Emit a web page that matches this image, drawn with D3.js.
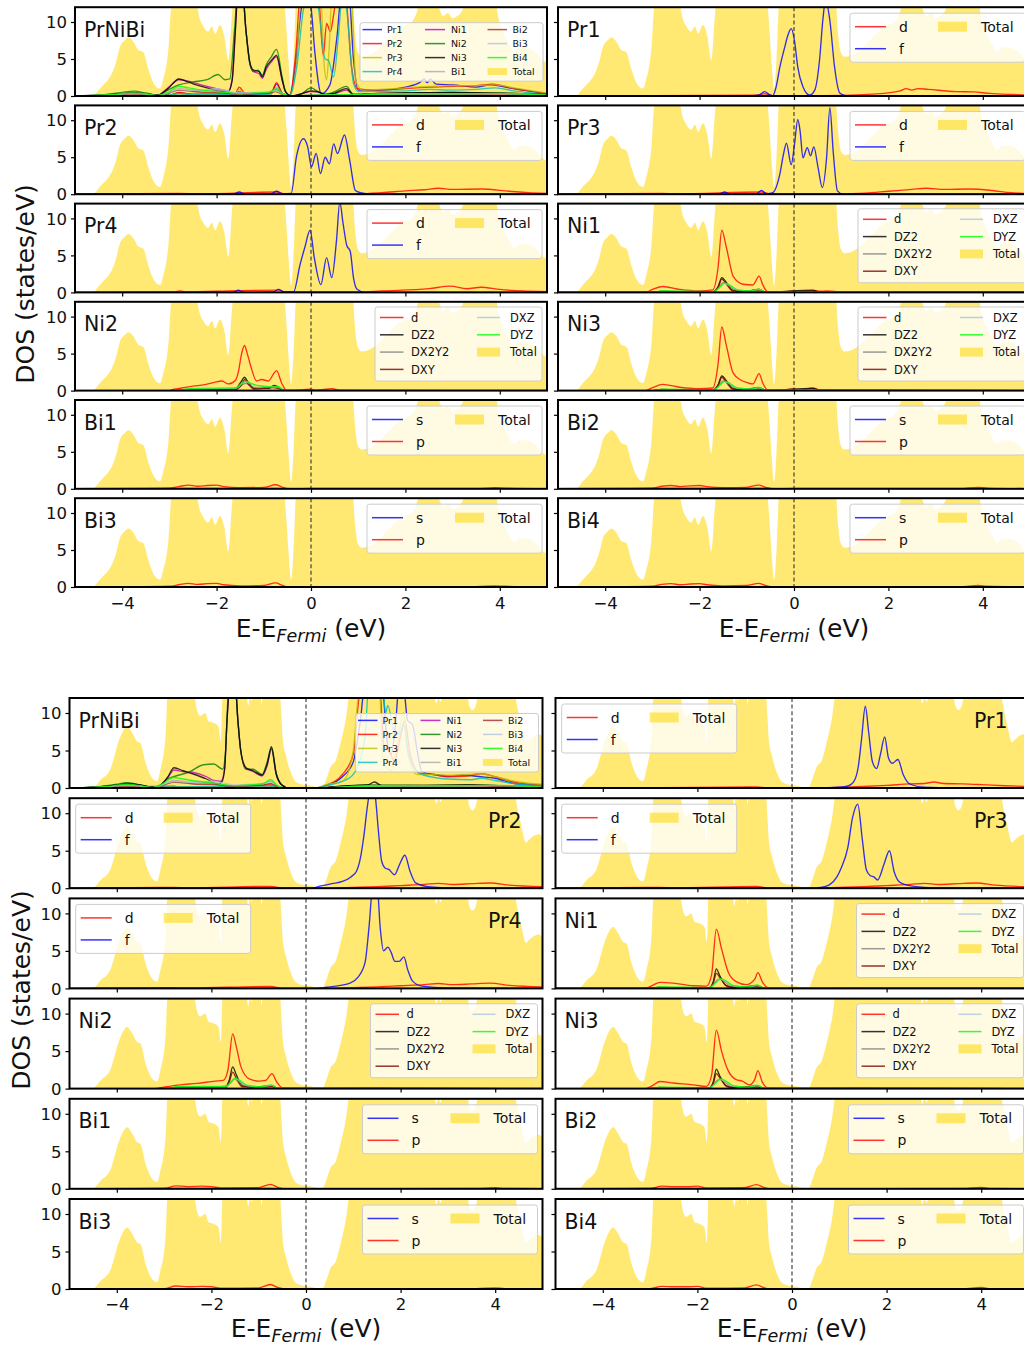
<!DOCTYPE html>
<html><head><meta charset="utf-8">
<script src="https://cdn.jsdelivr.net/npm/d3@7"></script>
<style>body{margin:0;background:#fff} svg{display:block} text{font-family:"DejaVu Sans",sans-serif;fill:#111}</style>
</head><body><svg id="c" width="1024" height="1345"></svg>
<script>
// ---------------- tick labels ----------------
const xTicks = [-4, -2, 0, 2, 4];
const xTickLabels = ["\u22124", "\u22122", "0", "2", "4"];
const yTicks = [0, 5, 10];
const yTickLabels = ["0", "5", "10"];

// ---------------- FIGURE A (top) : [energy eV, DOS] ----------------
const A_total = [[-5,0],[-4.62,0],[-4.5,0.8],[-4.43,1.3],[-4.3,2.2],[-4.22,3.0],[-4.12,4.8],[-4.05,6.6],[-3.95,7.5],[-3.87,7.9],[-3.76,7.3],[-3.66,6.2],[-3.55,5.9],[-3.45,3.7],[-3.34,1.8],[-3.2,1.0],[-3.13,2.3],[-3.02,6.4],[-2.95,12.5],[-2.5,13],[-2.42,12.3],[-2.36,10.5],[-2.28,9.4],[-2.18,8.7],[-2.1,9.4],[-2.03,8.4],[-1.93,9.6],[-1.84,8.2],[-1.75,4.8],[-1.68,10.5],[-1.64,13],[-0.58,13],[-0.52,9],[-0.48,5],[-0.42,0.9],[-0.37,5],[-0.31,13],[0.88,13],[0.93,8.7],[0.99,5.9],[1.07,5.3],[1.18,5.4],[1.29,5.7],[1.43,6.4],[1.57,7.3],[1.71,8.2],[1.85,9.1],[2.0,9.6],[2.13,10],[2.25,11.5],[2.31,13],[2.65,13],[2.72,11.8],[2.8,10.8],[2.9,11.2],[3.0,10.5],[3.1,10.8],[3.2,11.5],[3.3,13],[3.9,13],[3.97,10.5],[4.05,9.0],[4.18,7.2],[4.3,6.0],[4.42,6.6],[4.6,6.5],[4.75,6.0],[4.9,4.9],[5.0,4.5]];

const A_allPr1 = [[-5,0],[-3,0.1],[-2.8,0.4],[-2.5,0.2],[-1.6,0.3],[-1.52,0.6],[-1.4,0.2],[-0.85,0.3],[-0.73,1.6],[-0.6,0.3],[-0.45,0.1],[-0.35,3],[-0.2,12],[-0.1,14],[0.0,12],[0.08,6],[0.22,0.3],[0.4,1.5],[0.55,8],[0.65,14],[0.8,14],[0.9,5],[1.0,0.8],[1.5,0.8],[2.0,1.2],[2.3,1.8],[2.4,2.3],[2.46,1.8],[2.53,2.3],[2.65,1.6],[3.0,1.5],[3.5,1.2],[3.8,1.5],[4.2,1.1],[4.6,0.7],[5,0.3]];
const A_allPr2 = [[-5,0],[-3,0.1],[-2.8,0.5],[-2.5,0.2],[-1.6,0.4],[-1.52,1.2],[-1.4,0.4],[-0.85,0.4],[-0.73,1.8],[-0.6,0.3],[-0.45,0.1],[-0.32,6],[-0.22,14],[0.15,14],[0.26,5.5],[0.33,9.8],[0.41,8.7],[0.48,11],[0.56,14],[0.72,14],[0.86,3.9],[0.98,1.0],[1.3,0.8],[2,1.0],[2.5,1.2],[3,1.3],[3.5,1.4],[3.85,1.6],[4.3,1.0],[4.7,0.6],[5,0.3]];
const A_allPr3 = [[-5,0],[-3,0.1],[-2.8,0.3],[-2.5,0.2],[-1.6,0.3],[-1.52,0.9],[-1.4,0.3],[-0.85,0.3],[-0.73,1.2],[-0.6,0.3],[-0.45,0.1],[-0.3,5],[-0.2,14],[0.2,14],[0.28,4],[0.33,2.2],[0.38,6],[0.45,14],[0.85,14],[0.95,2],[1.1,0.8],[2,1.1],[2.5,1.3],[3,1.4],[3.5,1.4],[3.9,1.5],[4.3,1.1],[4.7,0.7],[5,0.4]];
const A_allPr4 = [[-5,0],[-3,0.1],[-2.8,0.3],[-2.5,0.2],[-1.6,0.2],[-1.52,0.6],[-1.4,0.2],[-0.85,0.3],[-0.73,1.0],[-0.6,0.3],[-0.45,0.1],[-0.3,4],[-0.15,12],[0,14],[0.15,12],[0.3,5],[0.37,4.8],[0.48,2.6],[0.58,8],[0.67,14],[0.75,12],[0.9,1.7],[1.0,0.6],[2,0.7],[2.5,0.9],[3,0.8],[3.5,0.9],[3.9,1.1],[4.3,0.7],[4.7,0.4],[5,0.2]];
const A_allNi1 = [[-5,0],[-4.5,0.1],[-4,0.3],[-3.8,0.45],[-3.5,0.3],[-3.25,0.1],[-3.03,1.1],[-2.8,2.2],[-2.6,2.0],[-2.43,1.7],[-2.2,1.3],[-2.0,1.0],[-1.75,0.7],[-1.67,2.3],[-1.6,9.5],[-1.55,14],[-1.45,14],[-1.38,9],[-1.29,4.2],[-1.22,3.3],[-1.1,3.0],[-1.03,2.4],[-0.95,3.6],[-0.84,4.6],[-0.73,5.3],[-0.61,2.1],[-0.54,0.6],[-0.42,0],[-0.2,0.3],[0,0.6],[0.15,0.5],[0.3,0.2],[0.5,0.3],[0.75,0.8],[0.9,0.2],[1.2,0.3],[2,0.4],[3,0.45],[4,0.35],[5,0.2]];
const A_allNi2 = [[-5,0],[-4.5,0.1],[-4,0.5],[-3.75,0.65],[-3.5,0.4],[-3.25,0.1],[-3.03,0.8],[-2.8,1.5],[-2.5,1.9],[-2.2,2.2],[-1.97,2.9],[-1.82,2.2],[-1.72,2.3],[-1.62,9],[-1.55,14],[-1.45,14],[-1.38,9],[-1.29,4.2],[-1.22,3.3],[-1.12,3.5],[-1.03,2.8],[-0.95,4.2],[-0.84,5.3],[-0.73,6.3],[-0.61,2.5],[-0.54,0.6],[-0.42,0],[-0.2,0.3],[0,1.1],[0.15,0.6],[0.3,0.2],[0.5,0.6],[0.75,1.3],[0.9,0.2],[1.2,0.3],[2,0.4],[3,0.5],[4,0.4],[5,0.2]];
const A_allNi3 = [[-5,0],[-4.5,0.1],[-4,0.3],[-3.8,0.4],[-3.5,0.3],[-3.25,0.1],[-3.03,1.0],[-2.8,2.3],[-2.6,1.9],[-2.43,1.5],[-2.2,1.1],[-2.05,0.8],[-1.75,0.6],[-1.67,2.1],[-1.6,9],[-1.55,14],[-1.45,14],[-1.38,9],[-1.29,4.4],[-1.22,3.5],[-1.1,3.3],[-1.03,2.6],[-0.95,3.9],[-0.84,4.8],[-0.73,5.5],[-0.61,2.2],[-0.54,0.6],[-0.42,0],[-0.2,0.3],[0,0.7],[0.15,0.6],[0.3,0.2],[0.5,0.4],[0.75,1.0],[0.9,0.2],[1.2,0.3],[2,0.4],[3,0.5],[4,0.4],[5,0.2]];
const A_allBi1 = [[-5,0],[-4.2,0.15],[-3.8,0.3],[-3.5,0.2],[-3.25,0.05],[-3.0,0.5],[-2.8,1.0],[-2.6,0.9],[-2.3,0.7],[-2.0,0.8],[-1.7,0.5],[-1.5,0.3],[-1.2,0.4],[-0.9,0.5],[-0.75,0.8],[-0.6,0.3],[-0.45,0],[0,0.1],[1,0.2],[2,0.3],[3,0.3],[4,0.3],[5,0.1]];
const A_allBi2 = [[-5,0],[-4.2,0.1],[-3.8,0.3],[-3.5,0.2],[-3.25,0.05],[-3.0,0.4],[-2.8,0.8],[-2.6,0.7],[-2.3,0.5],[-2.0,0.5],[-1.7,0.3],[-1.5,0.2],[-1.2,0.3],[-0.9,0.4],[-0.75,0.6],[-0.6,0.2],[-0.45,0],[0,0.1],[1,0.15],[2,0.25],[3,0.25],[4,0.3],[5,0.1]];
const A_allBi3 = [[-5,0],[-4.2,0.15],[-3.8,0.35],[-3.5,0.25],[-3.25,0.05],[-3.0,0.5],[-2.8,0.9],[-2.6,0.8],[-2.3,0.8],[-2.0,1.0],[-1.7,0.6],[-1.5,0.4],[-1.2,0.5],[-0.9,0.6],[-0.75,0.7],[-0.6,0.3],[-0.45,0],[0,0.1],[1,0.2],[2,0.3],[3,0.3],[4,0.35],[5,0.1]];
const A_allBi4 = [[-5,0],[-4.2,0.2],[-3.8,0.4],[-3.5,0.3],[-3.25,0.05],[-3.0,0.6],[-2.8,1.3],[-2.6,1.1],[-2.3,0.8],[-2.0,0.6],[-1.7,0.4],[-1.5,0.3],[-1.2,0.4],[-0.9,0.5],[-0.75,0.9],[-0.6,0.3],[-0.45,0],[0,0.1],[1,0.2],[2,0.3],[3,0.3],[4,0.35],[5,0.1]];

const A_pr1_d = [[-5,0],[-3,0.05],[-0.8,0.1],[-0.62,0.3],[-0.45,0.05],[0.5,0.05],[1.0,0.08],[1.32,0.13],[2.03,0.45],[2.25,0.7],[2.38,1.0],[2.49,0.8],[2.63,1.0],[2.84,0.9],[3.44,0.6],[3.8,0.55],[4.15,0.35],[4.6,0.2],[5,0.1]];
const A_pr1_f = [[-5,0],[-1.0,0],[-0.75,0.1],[-0.62,0.6],[-0.52,0.2],[-0.45,0.05],[-0.38,1.2],[-0.3,3.9],[-0.2,6.5],[-0.13,8.2],[-0.06,9.1],[0.01,7.5],[0.08,3.9],[0.19,1.25],[0.33,0.13],[0.44,0.8],[0.54,4.8],[0.61,10.2],[0.67,13],[0.76,10.2],[0.86,3.9],[0.97,0.4],[1.1,0.05],[5,0]];
const A_pr2_d = [[-5,0],[-2.8,0.1],[-2.3,0.05],[-0.73,0.3],[-0.55,0.05],[1.0,0.05],[1.5,0.2],[2.0,0.45],[2.4,0.6],[2.7,0.8],[3.0,0.65],[3.6,0.7],[4.2,0.4],[4.6,0.2],[5,0.1]];
const A_pr2_f = [[-5,0],[-1.65,0],[-1.52,0.3],[-1.4,0],[-0.85,0.05],[-0.73,0.4],[-0.6,0.05],[-0.42,0.1],[-0.31,5.0],[-0.16,7.5],[-0.07,6.4],[0.01,3.7],[0.11,5.5],[0.2,2.8],[0.3,5.0],[0.39,4.1],[0.48,6.8],[0.56,5.5],[0.71,8.0],[0.82,4.6],[0.94,0.5],[1.05,0.2],[1.28,0],[5,0]];
const A_pr3_d = [[-5,0],[-2.8,0.1],[-2.5,0.05],[-0.69,0.3],[-0.5,0.05],[1.0,0.05],[1.5,0.15],[2.0,0.4],[2.5,0.65],[2.8,0.8],[3.2,0.65],[3.7,0.7],[4.2,0.5],[4.6,0.2],[5,0.1]];
const A_pr3_f = [[-5,0],[-1.6,0],[-1.47,0.3],[-1.35,0],[-0.8,0.05],[-0.69,0.5],[-0.58,0.05],[-0.45,0.2],[-0.3,2.7],[-0.22,5.5],[-0.16,6.9],[-0.06,4.0],[0.01,6.7],[0.08,10.1],[0.13,8.5],[0.19,4.9],[0.28,6.3],[0.35,5.2],[0.42,6.4],[0.51,3.6],[0.6,0.9],[0.69,4.9],[0.76,11.7],[0.83,5.8],[0.92,0.45],[1.04,0],[5,0]];
const A_pr4_d = [[-5,0],[-2.9,0.05],[-2.78,0.2],[-2.65,0.05],[-1.54,0.25],[-0.69,0.3],[-0.55,0.05],[1.0,0.05],[1.5,0.2],[2.5,0.5],[2.95,0.85],[3.3,0.5],[3.6,0.7],[4.0,0.4],[4.5,0.2],[5,0.1]];
const A_pr4_f = [[-5,0],[-1.65,0],[-1.54,0.3],[-1.42,0],[-0.8,0.05],[-0.69,0.4],[-0.55,0.05],[-0.37,0.05],[-0.23,3.8],[-0.13,6.1],[-0.02,8.4],[0.07,4.7],[0.21,1.05],[0.33,4.7],[0.44,2.0],[0.54,7.0],[0.61,12.2],[0.68,9.3],[0.76,6.3],[0.83,5.6],[0.9,2.0],[0.97,0.45],[1.14,0],[5,0]];

const A_ni1_d = [[-5,0],[-3.15,0],[-3.0,0.4],[-2.78,0.8],[-2.42,0.4],[-2.0,0.2],[-1.72,0.35],[-1.61,3.3],[-1.53,8.4],[-1.43,6.0],[-1.29,2.2],[-1.08,1.1],[-0.87,1.0],[-0.74,2.2],[-0.66,1.0],[-0.55,0.05],[-0.2,0.1],[0.0,0.2],[0.1,0.05],[0.4,0.25],[0.55,0.15],[0.7,0.2],[1.0,0.05],[5,0.02]];
const A_ni3_d = [[-5,0],[-3.15,0],[-3.0,0.4],[-2.78,0.85],[-2.42,0.45],[-2.0,0.25],[-1.72,0.35],[-1.61,3.5],[-1.53,8.6],[-1.43,6.0],[-1.29,2.4],[-1.12,1.4],[-1.0,1.1],[-0.87,0.9],[-0.74,2.3],[-0.66,1.0],[-0.55,0.05],[-0.2,0.1],[0.0,0.25],[0.1,0.05],[0.4,0.35],[0.55,0.1],[1.0,0.05],[5,0.02]];
const A_ni13_dz2 = [[-5,0],[-3,0],[-2.8,0.15],[-2.3,0.05],[-1.72,0.1],[-1.6,0.9],[-1.53,2.0],[-1.43,1.3],[-1.3,0.3],[-1.1,0.1],[-0.74,0.4],[-0.6,0.05],[0.4,0.3],[0.55,0.05],[5,0]];
const A_ni13_dx2y2 = [[-5,0],[-3,0],[-2.8,0.1],[-1.7,0.05],[-1.58,0.8],[-1.5,1.3],[-1.4,1.1],[-1.25,0.3],[-0.9,0.15],[-0.74,0.4],[-0.6,0.05],[5,0]];
const A_ni13_dxy = [[-5,0],[-3,0],[-2.8,0.1],[-1.72,0.05],[-1.6,0.8],[-1.53,1.8],[-1.43,1.1],[-1.3,0.2],[-0.74,0.2],[-0.6,0],[5,0]];
const A_ni13_dxz = [[-5,0],[-3,0],[-2.8,0.15],[-1.7,0.1],[-1.55,0.8],[-1.48,1.2],[-1.38,1.0],[-1.2,0.35],[-0.9,0.2],[-0.75,0.4],[-0.6,0.05],[5,0]];
const A_ni13_dyz = [[-5,0],[-3,0],[-2.8,0.2],[-1.7,0.1],[-1.55,0.85],[-1.48,1.25],[-1.38,1.05],[-1.2,0.35],[-0.9,0.2],[-0.75,0.45],[-0.6,0.05],[5,0]];
const A_ni2_d = [[-5,0],[-3.0,0],[-2.9,0.2],[-2.74,0.35],[-2.5,0.6],[-2.25,0.8],[-2.05,1.1],[-1.89,1.3],[-1.75,0.9],[-1.6,1.4],[-1.54,2.5],[-1.47,5.0],[-1.41,6.1],[-1.35,5.0],[-1.29,3.6],[-1.15,1.3],[-1.05,1.5],[-0.9,1.3],[-0.8,2.2],[-0.73,2.7],[-0.62,1.0],[-0.52,0.05],[-0.2,0.1],[0.0,0.2],[0.1,0.05],[0.45,0.25],[0.6,0.05],[5,0.02]];
const A_ni2_dz2 = [[-5,0],[-2.9,0],[-2.6,0.15],[-2,0.2],[-1.6,0.3],[-1.48,1.2],[-1.41,1.8],[-1.33,1.1],[-1.2,0.3],[-0.9,0.3],[-0.78,0.7],[-0.7,0.5],[-0.55,0],[5,0]];
const A_ni2_dx2y2 = [[-5,0],[-2.9,0],[-2.5,0.15],[-1.6,0.2],[-1.45,0.8],[-1.38,1.0],[-1.3,0.7],[-1.1,0.3],[-0.8,0.5],[-0.7,0.4],[-0.55,0],[5,0]];
const A_ni2_dxy = [[-5,0],[-2.9,0],[-2.5,0.1],[-1.6,0.15],[-1.45,1.0],[-1.41,1.5],[-1.33,0.9],[-1.2,0.2],[-0.8,0.4],[-0.7,0.3],[-0.55,0],[5,0]];
const A_ni2_dxz = [[-5,0],[-2.9,0],[-2.5,0.25],[-1.6,0.3],[-1.45,1.0],[-1.38,1.2],[-1.3,1.0],[-1.1,0.6],[-0.8,0.5],[-0.7,0.5],[-0.55,0],[5,0]];
const A_ni2_dyz = [[-5,0],[-2.9,0],[-2.5,0.3],[-1.6,0.35],[-1.45,1.05],[-1.38,1.25],[-1.3,1.05],[-1.1,0.65],[-0.8,0.5],[-0.7,0.55],[-0.55,0],[5,0]];

const A_bi_s = [[-5,0],[-3.0,0.05],[-2.5,0.05],[-0.8,0.05],[0,0],[5,0]];
const A_bi13_p = [[-5,0],[-4.0,0.02],[-3.0,0.1],[-2.8,0.3],[-2.6,0.5],[-2.4,0.35],[-2.2,0.45],[-2.0,0.5],[-1.85,0.3],[-1.5,0.15],[-1.0,0.2],[-0.75,0.55],[-0.6,0.2],[-0.45,0],[0.0,0.05],[3.5,0.05],[3.9,0.15],[4.1,0.1],[5,0.02]];
const A_bi24_p = [[-5,0],[-4.0,0.02],[-3.0,0.1],[-2.8,0.35],[-2.6,0.45],[-2.4,0.3],[-2.2,0.4],[-2.0,0.45],[-1.85,0.3],[-1.5,0.15],[-1.0,0.2],[-0.75,0.5],[-0.6,0.2],[-0.45,0],[0.0,0.05],[3.5,0.05],[3.9,0.2],[4.1,0.1],[5,0.02]];

// ---------------- FIGURE B (bottom) ----------------
const B_total = [[-5,0],[-4.52,0],[-4.34,1.1],[-4.13,2.6],[-3.95,6.4],[-3.78,8.2],[-3.67,7.3],[-3.57,6.2],[-3.5,6.0],[-3.39,3.3],[-3.25,1.3],[-3.15,0.9],[-3.08,2.4],[-2.97,6.9],[-2.92,13],[-2.38,13],[-2.31,10.5],[-2.24,9.6],[-2.13,10],[-2.06,8.9],[-1.96,8.7],[-1.85,8.2],[-1.8,6.2],[-1.76,13],[-1.27,13],[-1.22,11],[-1.18,12.3],[-1.15,11.6],[-1.1,13],[-0.97,13],[-0.94,11.2],[-0.9,13],[-0.56,13],[-0.52,9.6],[-0.49,6.4],[-0.42,4.2],[-0.31,1.9],[-0.21,0.8],[-0.07,0.45],[0.07,0.35],[0.21,0.13],[0.35,0.05],[0.42,1.0],[0.52,2.8],[0.63,3.7],[0.73,6.0],[0.84,9.1],[0.94,13],[2.7,13],[2.75,11.3],[2.8,12],[2.85,11.5],[2.9,13],[3.4,13],[3.45,11],[3.52,10.4],[3.58,10.8],[3.65,12.5],[4.4,13],[4.46,11],[4.55,8.4],[4.65,6.1],[4.72,6.5],[4.82,7.0],[4.92,7.2],[5.0,6.8]];

const B_allPr1 = [[-5,0],[-2.8,0.2],[-2.5,0.1],[-0.75,0.3],[-0.5,0],[0.2,0],[0.4,0.3],[0.77,1.5],[1.0,3.5],[1.15,9],[1.25,14],[1.6,14],[1.72,6],[1.8,4.5],[1.9,9],[1.97,14],[2.05,14],[2.15,9],[2.25,8.5],[2.35,5],[2.45,2.2],[2.7,1.8],[3.0,1.6],[3.3,1.7],[3.7,1.5],[4.0,1.3],[4.4,0.6],[5,0.3]];
const B_allPr2 = [[-5,0],[-2.8,0.2],[-2.5,0.1],[-0.75,0.4],[-0.5,0],[0.2,0],[0.4,0.3],[0.77,1.8],[1.0,4.5],[1.12,12],[1.2,14],[1.55,14],[1.65,5.5],[1.75,5],[1.87,3.6],[2.0,7],[2.09,9],[2.2,4.5],[2.4,2.0],[2.7,1.8],[3.0,1.5],[3.4,1.6],[3.7,1.9],[4.0,1.5],[4.4,0.8],[5,0.4]];
const B_allPr3 = [[-5,0],[-2.8,0.15],[-0.75,0.3],[-0.5,0],[0.2,0],[0.4,0.4],[0.79,1.0],[1.0,5],[1.1,12],[1.18,14],[1.55,14],[1.62,4],[1.8,2.3],[1.95,6.6],[2.06,10],[2.16,4.4],[2.35,1.8],[2.7,1.8],[3.0,1.7],[3.4,1.8],[3.7,1.9],[4.0,1.5],[4.5,0.8],[5,0.5]];
const B_allPr4 = [[-5,0],[-2.8,0.15],[-0.75,0.3],[-0.5,0],[0.2,0],[0.5,0.4],[0.93,1.4],[1.1,3],[1.25,7],[1.33,14],[1.62,14],[1.68,10],[1.73,11],[1.88,7.2],[1.97,7.2],[2.07,8.4],[2.15,5],[2.3,2.5],[2.5,1.7],[3.0,1.2],[3.5,1.1],[3.7,1.3],[4.0,1.0],[4.5,0.5],[5,0.3]];
const B_allNi1 = [[-5,0],[-4.5,0.1],[-4,0.35],[-3.8,0.5],[-3.5,0.35],[-3.25,0.1],[-3.1,0.3],[-2.93,1.3],[-2.79,2.4],[-2.6,2.2],[-2.4,2.1],[-2.1,1.5],[-1.95,1.0],[-1.8,0.9],[-1.72,2.6],[-1.67,9],[-1.6,14],[-1.5,14],[-1.44,9],[-1.38,5],[-1.27,2.6],[-1.12,2.2],[-0.93,1.6],[-0.82,3.0],[-0.73,5.2],[-0.63,1.8],[-0.51,0.4],[-0.36,0],[0.3,0],[0.5,0.1],[0.9,0.3],[1.3,0.35],[2.5,0.3],[3.5,0.35],[4.5,0.2],[5,0.1]];
const B_allNi2 = [[-5,0],[-4.5,0.1],[-4,0.5],[-3.8,0.7],[-3.5,0.4],[-3.25,0.1],[-3.1,0.3],[-2.93,1.2],[-2.75,1.6],[-2.48,2.1],[-2.17,3.1],[-1.95,3.2],[-1.76,2.5],[-1.7,5],[-1.65,12],[-1.6,14],[-1.5,14],[-1.44,9],[-1.38,5],[-1.27,2.5],[-1.12,2.5],[-0.93,1.8],[-0.82,3.5],[-0.73,5.3],[-0.63,2.0],[-0.51,0.4],[-0.36,0],[0.3,0],[0.5,0.1],[0.9,0.3],[1.3,0.4],[2.5,0.35],[3.5,0.4],[4.5,0.2],[5,0.1]];
const B_allNi3 = [[-5,0],[-4.5,0.1],[-4,0.4],[-3.8,0.6],[-3.5,0.4],[-3.25,0.1],[-3.1,0.3],[-2.93,1.4],[-2.79,2.7],[-2.6,2.3],[-2.4,1.9],[-2.1,1.2],[-1.87,0.5],[-1.78,0.8],[-1.72,2.5],[-1.67,9],[-1.6,14],[-1.5,14],[-1.44,9],[-1.38,5],[-1.27,2.7],[-1.12,2.3],[-0.93,1.7],[-0.82,3.2],[-0.73,5.5],[-0.63,1.9],[-0.51,0.4],[-0.36,0],[0.3,0],[0.5,0.1],[0.9,0.3],[1.3,0.4],[1.45,0.8],[1.6,0.3],[2.5,0.35],[3.5,0.4],[4.5,0.2],[5,0.1]];
const B_allBi1 = [[-5,0],[-4.2,0.15],[-3.8,0.35],[-3.5,0.2],[-3.25,0.05],[-3.0,0.5],[-2.8,1.0],[-2.6,0.9],[-2.3,0.7],[-2.0,0.7],[-1.7,0.4],[-1.5,0.3],[-1.2,0.4],[-0.9,0.5],[-0.75,0.9],[-0.6,0.3],[-0.45,0],[0.4,0],[1,0.2],[2,0.3],[3,0.3],[4,0.3],[5,0.1]];
const B_allBi2 = [[-5,0],[-4.2,0.1],[-3.8,0.3],[-3.5,0.2],[-3.25,0.05],[-3.0,0.4],[-2.8,0.8],[-2.6,0.7],[-2.3,0.5],[-2.0,0.5],[-1.7,0.3],[-1.5,0.2],[-1.2,0.3],[-0.9,0.4],[-0.75,0.6],[-0.6,0.2],[-0.45,0],[0.4,0],[1,0.15],[2,0.25],[3,0.25],[4,0.3],[5,0.1]];
const B_allBi3 = [[-5,0],[-4.2,0.15],[-3.8,0.35],[-3.5,0.25],[-3.25,0.05],[-3.0,0.5],[-2.8,0.9],[-2.6,0.8],[-2.3,0.8],[-2.0,0.9],[-1.7,0.6],[-1.5,0.4],[-1.2,0.5],[-0.9,0.6],[-0.75,0.8],[-0.6,0.3],[-0.45,0],[0.4,0],[1,0.2],[2,0.3],[3,0.3],[4,0.35],[5,0.1]];
const B_allBi4 = [[-5,0],[-4.2,0.2],[-3.8,0.5],[-3.5,0.3],[-3.25,0.05],[-3.0,0.7],[-2.8,1.4],[-2.6,1.2],[-2.3,0.9],[-2.0,0.7],[-1.7,0.4],[-1.5,0.3],[-1.2,0.4],[-0.9,0.6],[-0.75,1.1],[-0.6,0.3],[-0.45,0],[0.4,0],[1,0.2],[2,0.3],[3,0.3],[4,0.35],[5,0.1]];

const B_pr_d = [[-5,0],[-2.8,0.1],[-2.5,0.05],[-0.75,0.25],[-0.5,0],[0.5,0],[1.0,0.1],[1.5,0.2],[2.0,0.35],[2.5,0.5],[2.8,0.65],[3.1,0.5],[3.5,0.6],[3.9,0.7],[4.3,0.4],[5,0.2]];
const B_pr1_d = [[-5,0],[-2.8,0.05],[-0.75,0.15],[-0.5,0],[0.5,0],[1.0,0.1],[1.5,0.2],[2.0,0.35],[2.5,0.55],[2.8,0.6],[3.0,0.8],[3.2,0.6],[3.6,0.55],[4.0,0.45],[4.5,0.3],[5,0.2]];
const B_pr1_f = [[-5,0],[0.5,0],[1.0,0.1],[1.2,0.3],[1.32,1.0],[1.4,2.8],[1.47,6.5],[1.55,10.9],[1.62,7.5],[1.7,3.5],[1.79,2.6],[1.87,4.5],[1.96,6.8],[2.04,4.0],[2.12,3.3],[2.24,3.8],[2.35,1.8],[2.5,0.5],[2.8,0.1],[3.4,0],[5,0]];
const B_pr2_f = [[-5,0],[0.1,0],[0.32,0.3],[0.55,0.6],[0.77,0.9],[0.95,1.5],[1.07,2.3],[1.15,4.0],[1.22,6.8],[1.3,11],[1.4,14.5],[1.47,12],[1.53,7.7],[1.6,3.6],[1.67,2.7],[1.75,2.5],[1.87,1.8],[1.98,3.2],[2.09,4.4],[2.2,2.25],[2.32,0.7],[2.58,0.2],[3,0.05],[5,0]];
const B_pr3_f = [[-5,0],[0.4,0],[0.6,0.1],[0.79,0.45],[0.95,1.5],[1.04,2.7],[1.18,5.4],[1.28,9.4],[1.39,11.2],[1.49,6.3],[1.57,2.5],[1.65,1.7],[1.73,1.5],[1.81,1.1],[1.95,3.3],[2.06,5.0],[2.16,2.2],[2.3,0.7],[2.62,0.2],[3.0,0.05],[5,0]];
const B_pr4_f = [[-5,0],[0.2,0],[0.5,0.2],[0.93,0.7],[1.1,1.5],[1.25,3.5],[1.33,8],[1.42,14],[1.5,14],[1.57,8],[1.64,5],[1.73,5.5],[1.8,4.8],[1.88,3.6],[1.97,3.6],[2.07,4.2],[2.15,2.5],[2.25,1.0],[2.45,0.3],[3,0.05],[5,0]];

const B_ni1_d = [[-5,0],[-3.1,0],[-2.95,0.4],[-2.79,0.8],[-2.51,0.7],[-2.09,0.35],[-1.81,0.3],[-1.7,1.8],[-1.6,7.9],[-1.49,5.3],[-1.35,2.2],[-1.18,0.9],[-0.97,0.5],[-0.79,1.2],[-0.72,2.1],[-0.63,0.9],[-0.51,0.1],[0,0],[0.5,0.02],[1.0,0.05],[1.2,0.1],[2,0.05],[5,0.02]];
const B_ni3_d = [[-5,0],[-3.1,0],[-2.95,0.4],[-2.79,0.95],[-2.51,0.75],[-2.09,0.5],[-1.81,0.3],[-1.7,1.8],[-1.6,7.8],[-1.49,5.0],[-1.35,2.4],[-1.18,1.2],[-1.05,1.0],[-0.9,0.5],[-0.79,1.2],[-0.72,2.4],[-0.63,0.9],[-0.51,0.1],[0,0],[1.2,0.1],[2,0.05],[5,0.02]];
const B_ni13_dz2 = [[-5,0],[-3,0],[-2.8,0.15],[-2.3,0.05],[-1.75,0.1],[-1.66,1.0],[-1.6,2.6],[-1.52,1.6],[-1.4,0.4],[-1.2,0.1],[-0.72,0.35],[-0.6,0.05],[5,0]];
const B_ni13_dx2y2 = [[-5,0],[-3,0],[-2.8,0.1],[-1.75,0.05],[-1.63,0.8],[-1.55,1.2],[-1.45,1.0],[-1.3,0.3],[-0.9,0.1],[-0.72,0.3],[-0.6,0.05],[5,0]];
const B_ni13_dxy = [[-5,0],[-3,0],[-2.8,0.1],[-1.75,0.05],[-1.66,0.8],[-1.6,2.0],[-1.5,1.2],[-1.35,0.2],[-0.72,0.2],[-0.6,0],[5,0]];
const B_ni13_dxz = [[-5,0],[-3,0],[-2.8,0.15],[-1.75,0.1],[-1.6,0.8],[-1.52,1.2],[-1.42,1.0],[-1.25,0.35],[-0.95,0.15],[-0.73,0.4],[-0.6,0.05],[5,0]];
const B_ni13_dyz = [[-5,0],[-3,0],[-2.8,0.2],[-1.75,0.1],[-1.6,0.85],[-1.52,1.3],[-1.42,1.1],[-1.25,0.4],[-0.95,0.2],[-0.73,0.45],[-0.6,0.05],[5,0]];
const B_ni2_d = [[-5,0],[-3.2,0],[-3.0,0.2],[-2.66,0.5],[-2.3,0.7],[-1.92,1.0],[-1.75,1.1],[-1.65,2.5],[-1.55,7.3],[-1.47,5.5],[-1.38,3.0],[-1.2,1.3],[-1.0,1.0],[-0.85,1.1],[-0.72,2.0],[-0.62,0.9],[-0.5,0.1],[0,0],[1.2,0.1],[2,0.05],[5,0.02]];
const B_ni2_dz2 = [[-5,0],[-3,0],[-2.7,0.2],[-2,0.2],[-1.7,0.3],[-1.62,1.2],[-1.55,2.9],[-1.47,1.8],[-1.35,0.4],[-1.1,0.2],[-0.72,0.4],[-0.6,0.05],[5,0]];
const B_ni2_dx2y2 = [[-5,0],[-3,0],[-2.7,0.15],[-1.7,0.2],[-1.58,0.9],[-1.52,1.3],[-1.42,1.0],[-1.3,0.35],[-0.9,0.15],[-0.72,0.35],[-0.6,0.05],[5,0]];
const B_ni2_dxy = [[-5,0],[-3,0],[-2.7,0.1],[-1.7,0.1],[-1.62,0.9],[-1.55,2.2],[-1.47,1.3],[-1.35,0.25],[-0.72,0.25],[-0.6,0],[5,0]];
const B_ni2_dxz = [[-5,0],[-3,0],[-2.7,0.2],[-1.7,0.25],[-1.57,0.9],[-1.5,1.3],[-1.4,1.0],[-1.25,0.4],[-0.95,0.2],[-0.73,0.45],[-0.6,0.05],[5,0]];
const B_ni2_dyz = [[-5,0],[-3,0],[-2.7,0.25],[-1.7,0.3],[-1.57,0.95],[-1.5,1.4],[-1.4,1.1],[-1.25,0.45],[-0.95,0.25],[-0.73,0.5],[-0.6,0.05],[5,0]];

const B_bi_s = [[-5,0],[-3.0,0.05],[-2.5,0.05],[-0.8,0.05],[-0.4,0],[5,0]];
const B_bi13_p = [[-5,0],[-4,0.02],[-3,0.05],[-2.75,0.4],[-2.5,0.3],[-2.2,0.35],[-2.0,0.3],[-1.8,0.1],[-1.0,0.15],[-0.75,0.6],[-0.6,0.2],[-0.45,0],[0.5,0],[3.6,0.05],[4.0,0.15],[4.2,0.05],[5,0.02]];
const B_bi24_p = [[-5,0],[-4,0.02],[-3,0.05],[-2.75,0.35],[-2.5,0.3],[-2.2,0.3],[-2.0,0.35],[-1.8,0.1],[-1.0,0.15],[-0.75,0.55],[-0.6,0.2],[-0.45,0],[0.5,0],[3.6,0.05],[4.0,0.2],[4.2,0.05],[5,0.02]];

// ---------------- styles ----------------
const COL = {pr1:"#0000ff", pr2:"#ff0000", pr3:"#bfbf00", pr4:"#00bfbf", ni1:"#bf00bf", ni2:"#008000", ni3:"#000000",
  bi1:"#a9a9a9", bi2:"#a52a2a", bi3:"#b0c4de", bi4:"#00ff00",
  d:"#ff0000", f:"#0000ff", s:"#0000ff", p:"#ff0000", dz2:"#000000", dx2y2:"#808080", dxy:"#800000", dxz:"#b0c4de", dyz:"#00ff00"};
const FILL = "#ffd700";

const LAYOUT = {
  A: {colLeft:[75, 558], w:472, top0:7.2, step:98.2, h:88.8, tickBase:608.5, xlabBase:637, ylab:[34, 284]},
  B: {colLeft:[69.5, 555.5], w:473, top0:698, step:100.2, h:90, tickBase:1310, xlabBase:1337, ylab:[30, 990]}
};

const LEG = {
  all: {w:183, h:58.5, font:9.5, rows:[6.9,20.9,34.9,48.9], cols:[[2.5,22,27],[65,85,91],[127.5,147,152.5]], patch:7},
  big: {w:175, h:49, font:14, rows:[13.5,35.5], cols:[[5,36,49],[88,117,131]], patch:10},
  ni:  {w:167, h:74, font:11.5, rows:[10.5,27.8,45.1,62.4], cols:[[5,28.5,36],[102,125,135]], patch:9}
};

function allSeries(fig) {
  const names = ["Pr1","Pr2","Pr3","Pr4","Ni1","Ni2","Ni3","Bi1","Bi2","Bi3","Bi4"];
  const data = fig === "A"
    ? [A_allPr1,A_allPr2,A_allPr3,A_allPr4,A_allNi1,A_allNi2,A_allNi3,A_allBi1,A_allBi2,A_allBi3,A_allBi4]
    : [B_allPr1,B_allPr2,B_allPr3,B_allPr4,B_allNi1,B_allNi2,B_allNi3,B_allBi1,B_allBi2,B_allBi3,B_allBi4];
  return names.map((n,i)=>({name:n, color:COL[n.toLowerCase()], data:data[i], col:Math.floor(i/4), row:i%4}));
}
function prSeries(d, f) { return [{name:"d", color:COL.d, data:d, col:0, row:0},{name:"f", color:COL.f, data:f, col:0, row:1}]; }
function biSeries(s, p) { return [{name:"s", color:COL.s, data:s, col:0, row:0},{name:"p", color:COL.p, data:p, col:0, row:1}]; }
function niSeries(d, dz2, dx2y2, dxy, dxz, dyz) {
  return [{name:"d",color:COL.d,data:d,col:0,row:0},{name:"DZ2",color:COL.dz2,data:dz2,col:0,row:1},
    {name:"DX2Y2",color:COL.dx2y2,data:dx2y2,col:0,row:2},{name:"DXY",color:COL.dxy,data:dxy,col:0,row:3},
    {name:"DXZ",color:COL.dxz,data:dxz,col:1,row:0},{name:"DYZ",color:COL.dyz,data:dyz,col:1,row:1}];
}

const PANELS = {
  A: [
    {c:0,r:0,label:"PrNiBi",leg:"all",series:allSeries("A"),totalPos:[2,3]},
    {c:0,r:1,label:"Pr2",leg:"big",series:prSeries(A_pr2_d,A_pr2_f),totalPos:[1,0]},
    {c:0,r:2,label:"Pr4",leg:"big",series:prSeries(A_pr4_d,A_pr4_f),totalPos:[1,0]},
    {c:0,r:3,label:"Ni2",leg:"ni",series:niSeries(A_ni2_d,A_ni2_dz2,A_ni2_dx2y2,A_ni2_dxy,A_ni2_dxz,A_ni2_dyz),totalPos:[1,2]},
    {c:0,r:4,label:"Bi1",leg:"big",series:biSeries(A_bi_s,A_bi13_p),totalPos:[1,0]},
    {c:0,r:5,label:"Bi3",leg:"big",series:biSeries(A_bi_s,A_bi13_p),totalPos:[1,0]},
    {c:1,r:0,label:"Pr1",leg:"big",series:prSeries(A_pr1_d,A_pr1_f),totalPos:[1,0]},
    {c:1,r:1,label:"Pr3",leg:"big",series:prSeries(A_pr3_d,A_pr3_f),totalPos:[1,0]},
    {c:1,r:2,label:"Ni1",leg:"ni",series:niSeries(A_ni1_d,A_ni13_dz2,A_ni13_dx2y2,A_ni13_dxy,A_ni13_dxz,A_ni13_dyz),totalPos:[1,2]},
    {c:1,r:3,label:"Ni3",leg:"ni",series:niSeries(A_ni3_d,A_ni13_dz2,A_ni13_dx2y2,A_ni13_dxy,A_ni13_dxz,A_ni13_dyz),totalPos:[1,2]},
    {c:1,r:4,label:"Bi2",leg:"big",series:biSeries(A_bi_s,A_bi24_p),totalPos:[1,0]},
    {c:1,r:5,label:"Bi4",leg:"big",series:biSeries(A_bi_s,A_bi24_p),totalPos:[1,0]}
  ],
  B: [
    {c:0,r:0,label:"PrNiBi",leg:"all",series:allSeries("B"),totalPos:[2,3]},
    {c:0,r:1,label:"Pr2",leg:"big",left:true,series:prSeries(B_pr_d,B_pr2_f),totalPos:[1,0]},
    {c:0,r:2,label:"Pr4",leg:"big",left:true,series:prSeries(B_pr_d,B_pr4_f),totalPos:[1,0]},
    {c:0,r:3,label:"Ni2",leg:"ni",series:niSeries(B_ni2_d,B_ni2_dz2,B_ni2_dx2y2,B_ni2_dxy,B_ni2_dxz,B_ni2_dyz),totalPos:[1,2]},
    {c:0,r:4,label:"Bi1",leg:"big",series:biSeries(B_bi_s,B_bi13_p),totalPos:[1,0]},
    {c:0,r:5,label:"Bi3",leg:"big",series:biSeries(B_bi_s,B_bi13_p),totalPos:[1,0]},
    {c:1,r:0,label:"Pr1",leg:"big",left:true,series:prSeries(B_pr1_d,B_pr1_f),totalPos:[1,0]},
    {c:1,r:1,label:"Pr3",leg:"big",left:true,series:prSeries(B_pr_d,B_pr3_f),totalPos:[1,0]},
    {c:1,r:2,label:"Ni1",leg:"ni",series:niSeries(B_ni1_d,B_ni13_dz2,B_ni13_dx2y2,B_ni13_dxy,B_ni13_dxz,B_ni13_dyz),totalPos:[1,2]},
    {c:1,r:3,label:"Ni3",leg:"ni",series:niSeries(B_ni3_d,B_ni13_dz2,B_ni13_dx2y2,B_ni13_dxy,B_ni13_dxz,B_ni13_dyz),totalPos:[1,2]},
    {c:1,r:4,label:"Bi2",leg:"big",series:biSeries(B_bi_s,B_bi24_p),totalPos:[1,0]},
    {c:1,r:5,label:"Bi4",leg:"big",series:biSeries(B_bi_s,B_bi24_p),totalPos:[1,0]}
  ]
};

const svg = d3.select("#c");
let clipId = 0;

function drawFigure(fig, total) {
  const L = LAYOUT[fig];
  PANELS[fig].forEach(p => {
    const x0 = L.colLeft[p.c], y0 = L.top0 + p.r * L.step;
    const x = d3.scaleLinear().domain([-5, 5]).range([x0, x0 + L.w]);
    const y = d3.scaleLinear().domain([0, 12]).range([y0 + L.h, y0]);
    const g = svg.append("g");
    const id = "clip" + (clipId++);
    g.append("clipPath").attr("id", id).append("rect")
      .attr("x", x0).attr("y", y0).attr("width", L.w).attr("height", L.h);
    const inner = g.append("g").attr("clip-path", `url(#${id})`);
    const area = d3.area().x(d => x(d[0])).y0(y(0)).y1(d => y(d[1])).curve(d3.curveMonotoneX);
    const line = d3.line().x(d => x(d[0])).y(d => y(d[1])).curve(d3.curveMonotoneX);
    inner.append("path").attr("d", area(total)).attr("fill", FILL).attr("fill-opacity", 0.55);
    p.series.forEach(s => {
      inner.append("path").attr("d", line(s.data)).attr("fill", "none")
        .attr("stroke", s.color).attr("stroke-width", 1.35).attr("stroke-opacity", 0.8);
    });
    inner.append("line").attr("x1", x(0)).attr("x2", x(0)).attr("y1", y0).attr("y2", y0 + L.h)
      .attr("stroke", "#333").attr("stroke-opacity", 0.85).attr("stroke-width", 1.3).attr("stroke-dasharray", "4,2.6");

    const showX = p.r === 5, showY = p.c === 0;
    const xa = d3.axisBottom(x).tickValues(xTicks).tickSize(4).tickPadding(4)
      .tickFormat((d, i) => showX ? xTickLabels[i] : "");
    const ya = d3.axisLeft(y).tickValues(yTicks).tickSize(4).tickPadding(4)
      .tickFormat((d, i) => showY ? yTickLabels[i] : "");
    const gx = g.append("g").attr("transform", `translate(0,${y0 + L.h})`).call(xa);
    const gy = g.append("g").attr("transform", `translate(${x0},0)`).call(ya);
    [gx, gy].forEach(a => {
      a.select(".domain").remove();
      a.selectAll("line").attr("stroke", "#000").attr("stroke-width", 1.2);
      a.selectAll("text").attr("font-size", 16.5).attr("fill", "#111").attr("font-family", "DejaVu Sans");
    });
    gx.selectAll("text").attr("dy", null).attr("y", L.tickBase - (y0 + L.h)).attr("dominant-baseline", "alphabetic");
    gy.selectAll("text").attr("dy", "0.35em");

    g.append("rect").attr("x", x0).attr("y", y0).attr("width", L.w).attr("height", L.h)
      .attr("fill", "none").attr("stroke", "#000").attr("stroke-width", 2);

    const lab = g.append("text").text(p.label).attr("font-size", 20.5).attr("y", y0 + 29.5);
    if (p.left) lab.attr("x", x0 + L.w - 21).attr("text-anchor", "end");
    else lab.attr("x", x0 + 9);

    const S = LEG[p.leg];
    let lx, ly;
    if (p.left) { lx = x0 + 6.2; ly = y0 + 6; }
    else if (p.leg === "all") { lx = x0 + L.w - 4 - S.w; ly = y0 + 15.5; }
    else if (p.leg === "ni") { lx = x0 + L.w - 5 - S.w; ly = y0 + 5.2; }
    else { lx = x0 + L.w - 5 - S.w; ly = y0 + 6; }
    const lg = g.append("g").attr("transform", `translate(${lx},${ly})`);
    lg.append("rect").attr("width", S.w).attr("height", S.h).attr("rx", 2.5)
      .attr("fill", "#fff").attr("fill-opacity", 0.8).attr("stroke", "#cccccc").attr("stroke-width", 1);
    p.series.forEach(s => {
      const c = S.cols[s.col], ry = S.rows[s.row];
      lg.append("line").attr("x1", c[0]).attr("x2", c[1]).attr("y1", ry).attr("y2", ry)
        .attr("stroke", s.color).attr("stroke-opacity", 0.8).attr("stroke-width", 1.5);
      lg.append("text").text(s.name).attr("x", c[2]).attr("y", ry).attr("dy", "0.36em").attr("font-size", S.font);
    });
    const tc = S.cols[p.totalPos[0]], tr = S.rows[p.totalPos[1]];
    lg.append("rect").attr("x", tc[0]).attr("width", tc[1] - tc[0]).attr("y", tr - S.patch / 2).attr("height", S.patch)
      .attr("fill", FILL).attr("fill-opacity", 0.55);
    lg.append("text").text("Total").attr("x", tc[2]).attr("y", tr).attr("dy", "0.36em").attr("font-size", S.font);
  });

  L.colLeft.forEach(cx => {
    const t = svg.append("text").attr("x", cx + L.w / 2).attr("y", L.xlabBase).attr("text-anchor", "middle").attr("font-size", 25);
    t.append("tspan").text("E-E");
    t.append("tspan").text("Fermi").attr("font-style", "italic").attr("font-size", 17.5).attr("dy", 5);
    t.append("tspan").text(" (eV)").attr("dy", -5);
  });
  svg.append("text").text("DOS (states/eV)").attr("font-size", 25).attr("text-anchor", "middle")
    .attr("transform", `translate(${L.ylab[0]},${L.ylab[1]}) rotate(-90)`);
}

drawFigure("A", A_total);
drawFigure("B", B_total);
</script>
</body></html>
